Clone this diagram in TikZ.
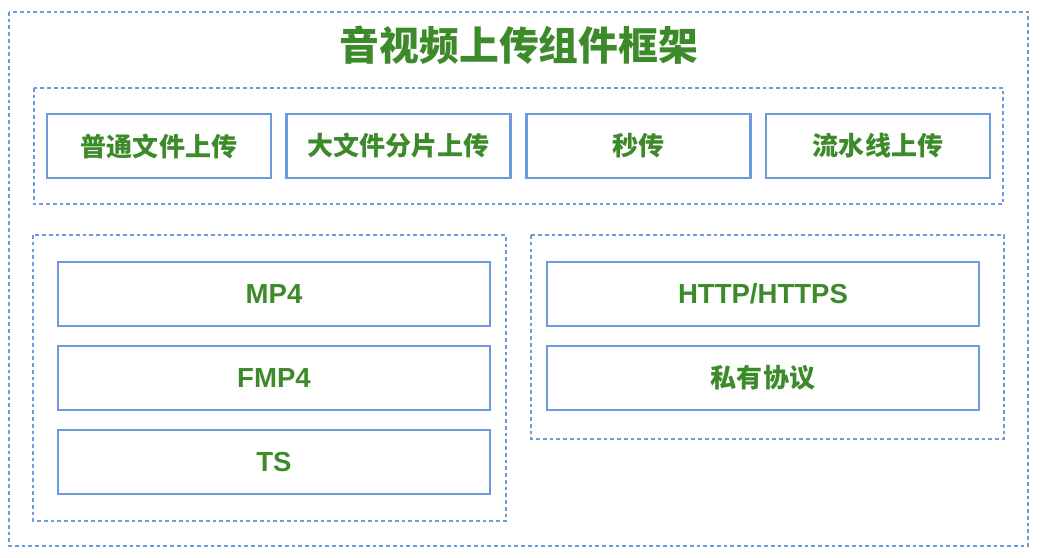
\documentclass[tikz,border=0pt]{standalone}
\usepackage{fontspec}
\setmainfont{Liberation Sans}
\newfontfamily\cjk{Noto Sans CJK SC}
\usepackage{tikz}
\definecolor{lineblue}{HTML}{6C9BDB}
\definecolor{textgreen}{HTML}{3D8A2B}
\tikzset{
  group/.style={draw=lineblue, line width=1.4pt, dash pattern=on 2.6pt off 2.2pt},
  box/.style={draw=lineblue, line width=1.5pt, text=textgreen, font=\fontsize{19.6}{21}\selectfont\bfseries,
    minimum height=1.6cm, inner sep=0pt},
  topbox/.style={box, minimum width=5.6cm},
  widebox/.style={box, minimum width=10.8cm},
  cjkbox/.style={font=\cjk\fontsize{18.5}{20}\selectfont\bfseries}
}
\begin{document}
\begin{tikzpicture}[x=0.025cm, y=-0.025cm]
      \useasboundingbox (0, 0) rectangle (1040, 558);
      % frames
      \draw[group] (9, 12) rectangle (1028, 546);
      \draw[group] (34, 88) rectangle (1003, 204);
      \draw[group] (33, 235) rectangle (506, 521);
      \draw[group] (531, 235) rectangle (1004, 439);
      \node[text=textgreen, font=\cjk\fontsize{28.3}{31}\selectfont\bfseries] (title) at (519, 45) {音视频上传组件框架};
      % upload modes
      \node[topbox, cjkbox] (normal) at (159, 146) {普通文件上传};
      \node[topbox, cjkbox] (chunk) at (398.5, 146) {大文件分片上传};
      \node[topbox, cjkbox] (instant) at (638.5, 146) {秒传};
      \node[topbox, cjkbox] (pipeline) at (878, 146) {流水线上传};
      % containers
      \node[widebox] (mp4) at (274, 294) {MP4};
      \node[widebox] (fmp4) at (274, 378) {FMP4};
      \node[widebox] (ts) at (274, 462) {TS};
      % protocols
      \node[widebox] (http) at (763, 294) {HTTP/HTTPS};
      \node[widebox, cjkbox] (private) at (763, 378) {私有协议};
    \end{tikzpicture}
\end{document}
